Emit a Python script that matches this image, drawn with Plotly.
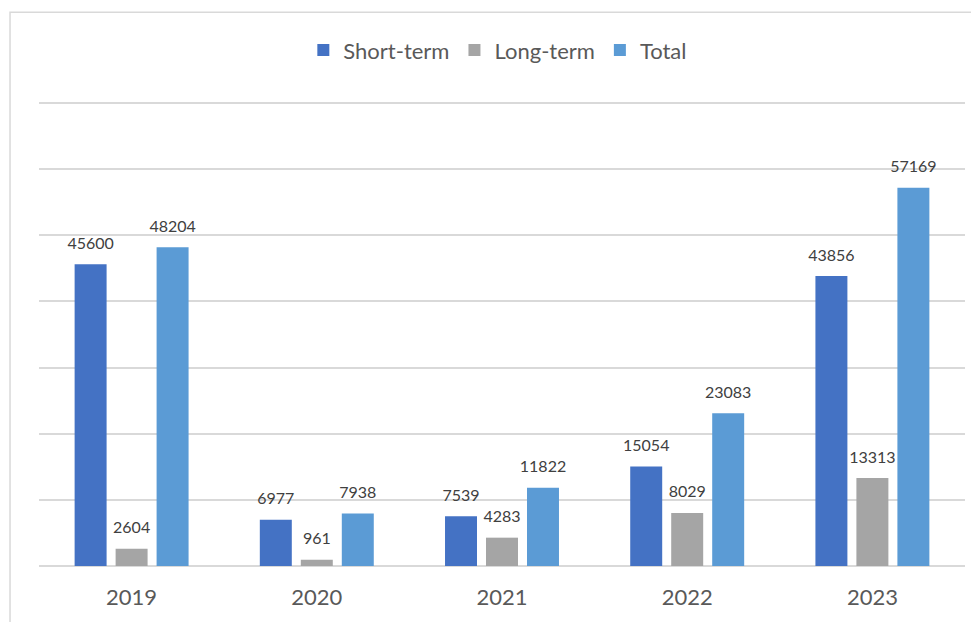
import plotly.graph_objects as go

years = ["2019", "2020", "2021", "2022", "2023"]
short_term = [45600, 6977, 7539, 15054, 43856]
long_term = [2604, 961, 4283, 8029, 13313]
total = [48204, 7938, 11822, 23083, 57169]

series = [
    ("Short-term", short_term, "#4472C4"),
    ("Long-term", long_term, "#A5A5A5"),
    ("Total", total, "#5B9BD5"),
]

fig = go.Figure()

for name, vals, color in series:
    fig.add_trace(go.Bar(
        x=years,
        y=vals,
        name=name,
        marker_color=color,
        marker_line_width=0,
        # label drawn at 16px, base font kept small so the blank
        # second line only lifts it a little above the bar
        text=[f"<span style='font-size:16px'>{v}</span><br> " for v in vals],
        textposition="outside",
        constraintext="none",
        cliponaxis=False,
        textfont=dict(size=8, color="#404040"),
    ))

# outer chart frame (light grey, like the source)
fig.add_shape(
    type="rect", xref="paper", yref="paper",
    x0=-0.0313, x1=1.2, y0=-0.3, y1=1.178,
    line=dict(color="#d9d9d9", width=1.5),
    fillcolor="rgba(0,0,0,0)", layer="below",
)

fig.update_layout(
    width=971,
    height=614,
    margin=dict(l=31, r=14, t=88, b=54),
    paper_bgcolor="white",
    plot_bgcolor="white",
    font=dict(family="Lato, Open Sans, sans-serif", color="#595959"),
    barmode="group",
    bargap=0.336,
    bargroupgap=0.22,
    showlegend=True,
    legend=dict(
        orientation="h",
        x=0.4955, xanchor="center",
        y=1.0975, yanchor="middle",
        font=dict(size=22, color="#595959"),
        itemwidth=30,
    ),
    xaxis=dict(
        showline=False,
        ticks="",
        tickfont=dict(size=22, color="#595959"),
        ticklabelstandoff=16,
    ),
    yaxis=dict(
        range=[0, 71054],
        dtick=10000,
        showticklabels=False,
        showgrid=True,
        gridcolor="#d9d9d9",
        gridwidth=1.5,
        zeroline=True,
        zerolinecolor="#d9d9d9",
        zerolinewidth=1.5,
    ),
)

fig.write_html("out.html")
